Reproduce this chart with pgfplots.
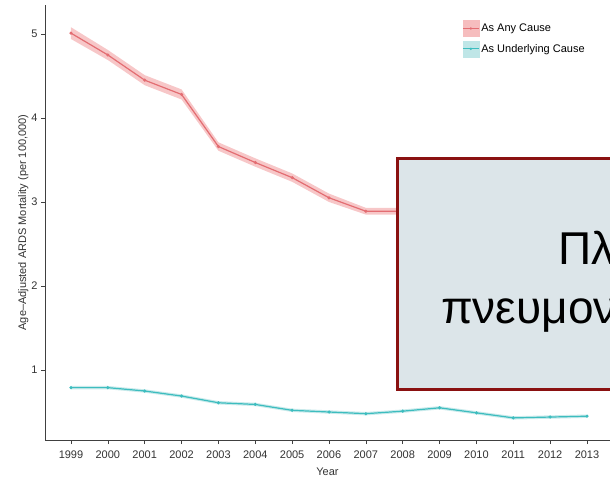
\documentclass[border=0pt]{standalone}
\usepackage{fontspec}
\setmainfont{Liberation Sans}
\usepackage{pgfplots}
\pgfplotsset{compat=1.18}
\usepackage{pgfplotstable}
\usepgfplotslibrary{fillbetween}

\definecolor{anyline}{HTML}{E36D72}
\definecolor{anyfill}{HTML}{F6BDBE}
\definecolor{undline}{HTML}{3DBDBF}
\definecolor{undfill}{HTML}{BFE6E7}
\definecolor{boxedge}{HTML}{8A1111}
\definecolor{boxfill}{HTML}{DCE5E9}

% year, estimate, lower, upper
\pgfplotstableread{
year v lo hi
1999 5.01 4.94 5.08
2000 4.75 4.69 4.81
2001 4.45 4.39 4.51
2002 4.28 4.22 4.34
2003 3.66 3.61 3.71
2004 3.47 3.42 3.52
2005 3.29 3.24 3.34
2006 3.05 3.00 3.10
2007 2.89 2.85 2.93
2008 2.89 2.85 2.93
2009 2.88 2.84 2.92
2010 2.80 2.76 2.84
2011 2.72 2.68 2.76
2012 2.66 2.62 2.70
2013 2.60 2.56 2.64
}\anycause

\pgfplotstableread{
year v lo hi
1999 0.79 0.77 0.81
2000 0.79 0.77 0.81
2001 0.75 0.73 0.77
2002 0.69 0.67 0.71
2003 0.61 0.59 0.63
2004 0.59 0.57 0.61
2005 0.52 0.50 0.54
2006 0.50 0.48 0.52
2007 0.48 0.46 0.50
2008 0.51 0.49 0.53
2009 0.55 0.53 0.57
2010 0.49 0.47 0.51
2011 0.43 0.41 0.45
2012 0.44 0.42 0.46
2013 0.45 0.43 0.47
}\underlying

\begin{document}
\begin{tikzpicture}
\begin{axis}[
    at={(45pt,37pt)}, anchor=south west,
    scale only axis,
    width=565pt, height=435pt,
    xmin=1998.295, xmax=2013.623,
    ymin=0.1667, ymax=5.345,
    axis x line*=bottom, axis y line*=left,
    axis line style={black!75, line width=0.8pt},
    xtick={1999,...,2013},
    ytick={1,2,3,4,5},
    x tick label style={/pgf/number format/1000 sep=, yshift=-3pt},
    tick align=outside,
    major tick length=4pt,
    tick style={black!75, line width=0.6pt},
    ticklabel style={font=\fontsize{11}{12}\selectfont, text=black!80},
    /pgf/number format/assume math mode=true,
    xlabel={Year},
    ylabel={Age–Adjusted ARDS Mortality (per 100,000)},
    label style={font=\fontsize{11}{12}\selectfont, text=black!80},
    xlabel style={yshift=-3pt},
    ylabel style={yshift=-4pt},
    legend style={at={(0.733,0.97)}, anchor=north west, draw=none, fill=none,
      font=\fontsize{11}{12}\selectfont, row sep=4pt},
    legend cell align=left,
  ]
  \addplot[name path=ahi, draw=none, forget plot] table[x=year, y=hi] {\anycause};
  \addplot[name path=alo, draw=none, forget plot] table[x=year, y=lo] {\anycause};
  \addplot[anyfill, fill opacity=0.85, forget plot] fill between[of=ahi and alo];
  \addplot[name path=uhi, draw=none, forget plot] table[x=year, y=hi] {\underlying};
  \addplot[name path=ulo, draw=none, forget plot] table[x=year, y=lo] {\underlying};
  \addplot[undfill, fill opacity=0.85, forget plot] fill between[of=uhi and ulo];
  \addplot[anyline, line width=1.2pt, mark=*, mark size=0.9pt, forget plot] table[x=year, y=v] {\anycause};
  \addplot[undline, line width=1.2pt, mark=*, mark size=0.9pt, forget plot] table[x=year, y=v] {\underlying};

  \addlegendimage{legend image code/.code={
      \fill[anyfill] (0pt,-8pt) rectangle (16pt,8pt);
      \draw[anyline, line width=1pt] (0pt,0pt) -- (16pt,0pt);
      \fill[anyline] (8pt,0pt) circle (1pt);}}
  \addlegendentry{As Any Cause}
  \addlegendimage{legend image code/.code={
      \fill[undfill] (0pt,-8pt) rectangle (16pt,8pt);
      \draw[undline, line width=1pt] (0pt,0pt) -- (16pt,0pt);
      \fill[undline] (8pt,0pt) circle (1pt);}}
  \addlegendentry{As Underlying Cause}
\end{axis}
% overlay box
\draw[boxedge, line width=3pt, fill=boxfill] (397pt,88pt) rectangle (640pt,318pt);
\node[anchor=base west, inner sep=0pt, font=\fontsize{46}{50}\selectfont] at (558pt,212pt) {Πλευρίτιδα};
\node[anchor=base west, inner sep=0pt, font=\fontsize{46}{50}\selectfont] at (441pt,154pt) {πνευμονικό οίδημα};
\pgfresetboundingbox
\useasboundingbox (0pt,0pt) rectangle (610pt,477pt);
\end{tikzpicture}
\end{document}
